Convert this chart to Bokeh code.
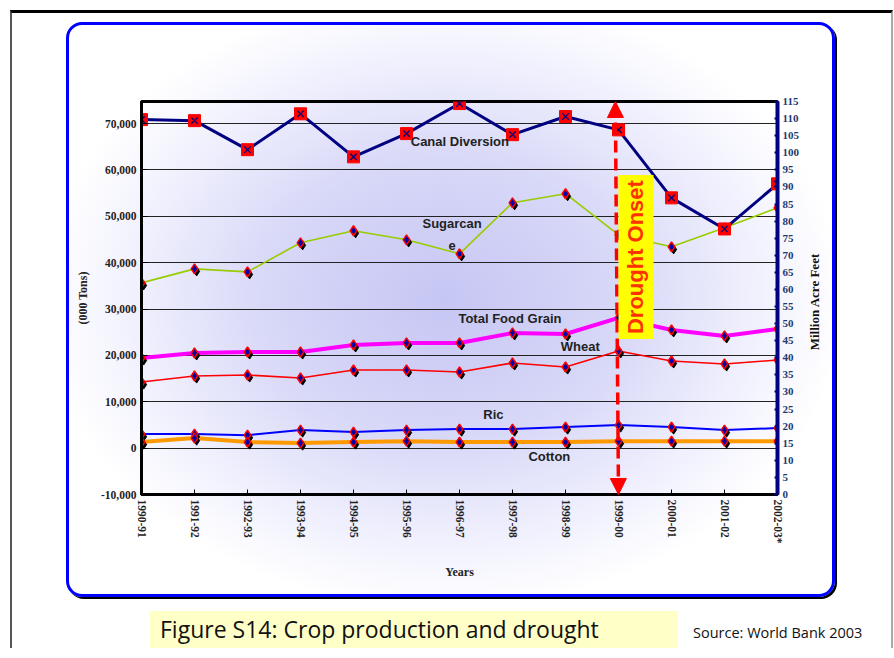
import math
from bokeh.plotting import figure
from bokeh.models import (Range1d, LinearAxis, FixedTicker, NumeralTickFormatter, Label,
                          Arrow, NormalHead, ColumnDataSource, Div)
from bokeh.layouts import column, row
from bokeh.transform import dodge
from bokeh.embed import file_html
from bokeh.resources import INLINE

# ---------------- data ----------------
years = ["1990-91", "1991-92", "1992-93", "1993-94", "1994-95", "1995-96", "1996-97",
         "1997-98", "1998-99", "1999-00", "2000-01", "2001-02", "2002-03*"]
canal_diversion = [109.7, 109.4, 100.9, 111.4, 98.8, 105.6, 114.4, 105.3, 110.6, 106.7, 86.8, 77.7, 90.9]
sugarcane = [35640, 38660, 38010, 44280, 46870, 44920, 41900, 52900, 54860, 46000, 43410, 47500, 51840]
food_grain = [19440, 20520, 20730, 20730, 22250, 22680, 22680, 24840, 24620, 28080, 25490, 24190, 25700]
wheat = [14250, 15550, 15770, 15120, 16850, 16850, 16410, 18360, 17490, 20950, 18790, 18140, 19000]
rice = [3020, 3020, 2800, 3890, 3460, 3890, 4100, 4100, 4540, 4970, 4540, 3890, 4320]
cotton = [1300, 2160, 1300, 1080, 1300, 1510, 1300, 1300, 1300, 1510, 1510, 1510, 1510]
left_ticks = [-10000, 0, 10000, 20000, 30000, 40000, 50000, 60000, 70000]
right_ticks = [0, 5, 10, 15, 20, 25, 30, 35, 40, 45, 50, 55, 60, 65, 70, 75, 80, 85, 90, 95, 100, 105, 110, 115]
drought_year = "1999-00"

x = list(range(len(years)))
src = ColumnDataSource(dict(x=x, canal=canal_diversion, sugarcane=sugarcane, food=food_grain,
                            wheat=wheat, rice=rice, cotton=cotton))

SERIF = "Liberation Serif"
SANS = "Liberation Sans"
Y_LO, Y_HI = -10000, 74750

p = figure(width=763, height=569, x_range=Range1d(0, len(years) - 1), y_range=Range1d(Y_LO, Y_HI),
           output_backend="svg", toolbar_location=None,
           min_border_left=72, min_border_right=55, min_border_top=76, min_border_bottom=100)
p.border_fill_alpha = 0
p.background_fill_alpha = 0
p.outline_line_color = "black"
p.outline_line_width = 3
p.extra_y_ranges = {"maf": Range1d(0, 115)}

# grid
p.xgrid.visible = False
p.ygrid.ticker = FixedTicker(ticks=left_ticks[1:])
p.ygrid.grid_line_color = "#222222"
p.ygrid.grid_line_width = 1.2

# x axis
p.xaxis.ticker = FixedTicker(ticks=x)
p.xaxis.major_label_overrides = {i: yv for i, yv in enumerate(years)}
p.xaxis.major_label_orientation = "vertical"
p.xaxis.axis_label = "Years"
p.xaxis.axis_line_width = 3
p.xaxis.major_tick_in = 5
p.xaxis.major_tick_out = 0
p.xaxis.minor_tick_line_color = None

# left axis
p.yaxis.ticker = FixedTicker(ticks=left_ticks)
p.yaxis.formatter = NumeralTickFormatter(format="0,0")
p.yaxis.axis_label = "(000 Tons)"
p.yaxis.axis_line_width = 3
p.yaxis.major_tick_in = 6
p.yaxis.major_tick_out = 0
p.yaxis.minor_tick_line_color = None

for ax in (p.xaxis, p.yaxis):
    ax.major_label_text_font = SERIF
    ax.major_label_text_font_style = "bold"
    ax.major_label_text_font_size = "11.5px"
    ax.major_label_text_color = "#222222"
    ax.axis_label_text_font = SERIF
    ax.axis_label_text_font_style = "bold"
    ax.axis_label_text_font_size = "12px"
    ax.axis_label_text_color = "#222222"
p.xaxis.axis_label_standoff = 18
p.yaxis.axis_label_standoff = 8

# right axis (its title is placed below as a rotated text block reading bottom-to-top)
ax_r = LinearAxis(y_range_name="maf", ticker=FixedTicker(ticks=right_ticks))
ax_r.axis_line_color = "#000080"
ax_r.axis_line_width = 4
ax_r.major_tick_line_color = "#000080"
ax_r.major_tick_line_width = 2
ax_r.major_tick_in = 3
ax_r.major_tick_out = 0
ax_r.minor_tick_line_color = None
ax_r.major_label_text_font = SERIF
ax_r.major_label_text_font_style = "bold"
ax_r.major_label_text_font_size = "11px"
ax_r.major_label_text_color = "#1f3a6e"
p.add_layout(ax_r, "right")

# crop series
crops = [("sugarcane", "#99cc00", 1.6), ("food", "#ff00ff", 4), ("wheat", "#ff0000", 1.6),
         ("rice", "#0000ff", 2), ("cotton", "#ff9900", 4)]
for col, color, lw in crops:
    p.line("x", col, source=src, line_color=color, line_width=lw)
for col, color, lw in crops:
    p.scatter(dodge("x", 0.04), dodge(col, -550), source=src, marker="diamond", size=9,
              fill_color="black", line_color="black")
    p.scatter("x", col, source=src, marker="diamond", size=10, fill_color="#0000aa",
              line_color="#ff0000", line_width=1.5)

# canal diversion (right axis)
p.line("x", "canal", source=src, y_range_name="maf", line_color="#000080", line_width=3)
p.scatter("x", "canal", source=src, y_range_name="maf", marker="square", size=12,
          fill_color="#ff0000", line_color="#ff0000")
p.scatter("x", "canal", source=src, y_range_name="maf", marker="x", size=9,
          line_color="#000080", line_width=1.3)

# series labels
lab_kw = dict(text_font=SANS, text_font_style="bold", text_font_size="13px", text_color="#222222",
              text_baseline="middle")
p.add_layout(Label(x=5.08, y=66090, text="Canal Diversion", **lab_kw))
p.add_layout(Label(x=5.86, y=46100, text="Sugarcan\ne", text_align="center", text_line_height=1.45, **lab_kw))
p.add_layout(Label(x=5.98, y=27860, text="Total Food Grain", **lab_kw))
p.add_layout(Label(x=7.91, y=21810, text="Wheat", **lab_kw))
p.add_layout(Label(x=6.45, y=7340, text="Ric", **lab_kw))
p.add_layout(Label(x=7.30, y=-1730, text="Cotton", **lab_kw))

# drought onset
dx = years.index(drought_year)
p.add_layout(Arrow(x_start=dx, y_start=Y_LO, x_end=dx - 0.06, y_end=Y_HI,
                   line_color="#ff0000", line_width=3.5, line_dash="12 6",
                   start=NormalHead(size=16, fill_color="#ff0000", line_color="#ff0000"),
                   end=NormalHead(size=16, fill_color="#ff0000", line_color="#ff0000")))
p.add_layout(Label(x=dx + 0.33, y=41200, text="Drought Onset", angle=math.pi / 2,
                   text_align="center", text_baseline="middle", text_font=SANS,
                   text_font_style="bold", text_font_size="22px", text_color="#ff3300",
                   background_fill_color="#ffff00", padding=5))

right_title = Div(text="Million Acre Feet", width=130, height=16, styles={
    "position": "absolute", "left": "676px", "top": "264px", "transform": "rotate(-90deg)",
    "text-align": "center", "line-height": "16px", "font-family": SERIF, "font-weight": "bold",
    "font-size": "13px", "color": "#111111", "white-space": "nowrap"})

box = column(p, right_title, margin=(9, 0, 0, 54), styles={
    "position": "relative",
    "border": "3px solid #0000ff", "border-radius": "16px",
    "box-shadow": "2px 2px 0 #000000",
    "background": "radial-gradient(ellipse 400px 310px at 375px 275px, #c6c6f4 0%, #d8d8f8 45%, #f2f2fe 80%, #ffffff 100%)",
})

cap = Div(text="Figure S14: Crop production and drought", width=528, height=37, margin=(14, 0, 0, 138),
          styles={"background-color": "#ffffc8", "font-family": "Open Sans", "font-size": "23px",
                  "line-height": "37px", "padding-left": "10px", "color": "#111111",
                  "box-sizing": "border-box"})
srcdiv = Div(text="Source: World Bank 2003", width=190, height=37, margin=(14, 0, 0, 15),
             styles={"font-family": "Open Sans", "font-size": "14.5px", "line-height": "44px",
                     "color": "#111111"})
caprow = row(cap, srcdiv)

root = column(box, caprow, margin=(10, 0, 0, 10), styles={
    "border-top": "3px solid #000000", "border-left": "2px solid #555555",
    "border-right": "2px solid #aaaaaa", "width": "883px", "box-sizing": "border-box",
    "background": "#ffffff"})

open("out.html", "w").write(file_html(root, INLINE))
